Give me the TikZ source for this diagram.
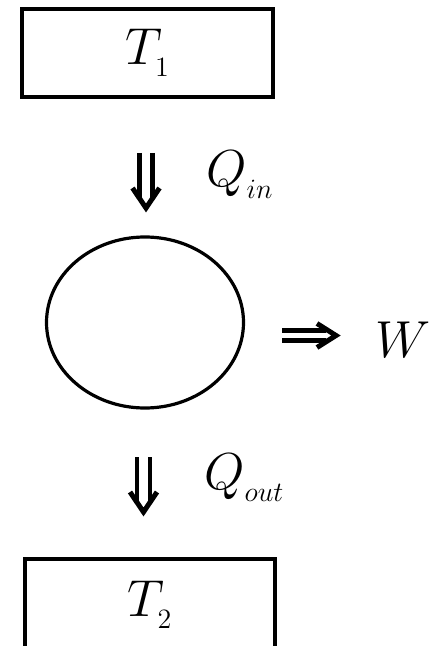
\RequirePackage{fix-cm}
\documentclass[tikz,border=0pt]{standalone}
\usetikzlibrary{shapes.geometric}
\DeclareMathSizes{26}{26}{14}{10}
\newcommand{\lowsub}[2]{\fontdimen16\textfont2=6pt #1_{#2}}
\begin{document}
\begin{tikzpicture}[x=0.5pt, y=-0.5pt,
    every node/.style={inner sep=0pt, font=\fontsize{26}{31}\selectfont},
    reservoir/.style={draw, line width=2pt, minimum width=125.5pt},
    engine/.style={draw, ellipse, line width=1.6pt},
    flowbar/.style={line width=2.2pt},
    flowhead/.style={line width=2.5pt, miter limit=10}]
  % heat engine between two reservoirs
  \useasboundingbox (0,0) rectangle (433,646);
  \node[reservoir, minimum height=44pt] (hot) at (147.5,53) {$\lowsub{T}{1}$};
  \node[anchor=base west] (qin) at (206,187) {$\lowsub{Q}{in}$};
  \node[engine, minimum width=98.5pt, minimum height=85.5pt] (cycle) at (145,322.5) {};
  \node[anchor=base west] (work) at (375,357) {$W$};
  \node[anchor=base west] (qout) at (204,489) {$\lowsub{Q}{out}$};
  \node[reservoir, minimum width=125pt, minimum height=46pt] (cold) at (150,605) {$\lowsub{T}{2}$};
  \coordinate (inarrow) at (146,183);
  \coordinate (outarrow) at (143.5,487);
  \coordinate (workarrow) at (312,335.5);
  \foreach \pos in {inarrow,outarrow} {
    \draw[flowbar, shift={(\pos)}] (-6.5,-30) -- (-6.5,16) (6.5,-30) -- (6.5,16);
    \draw[flowhead, shift={(\pos)}] (-13.5,5) -- (0,25) -- (13.5,5);
  }
  \draw[flowbar, shift={(workarrow)}] (-30,-5) -- (14,-5) (-30,5) -- (14,5);
  \draw[flowhead, shift={(workarrow)}] (5,-12) -- (24,0) -- (5,12);
\end{tikzpicture}
\end{document}
